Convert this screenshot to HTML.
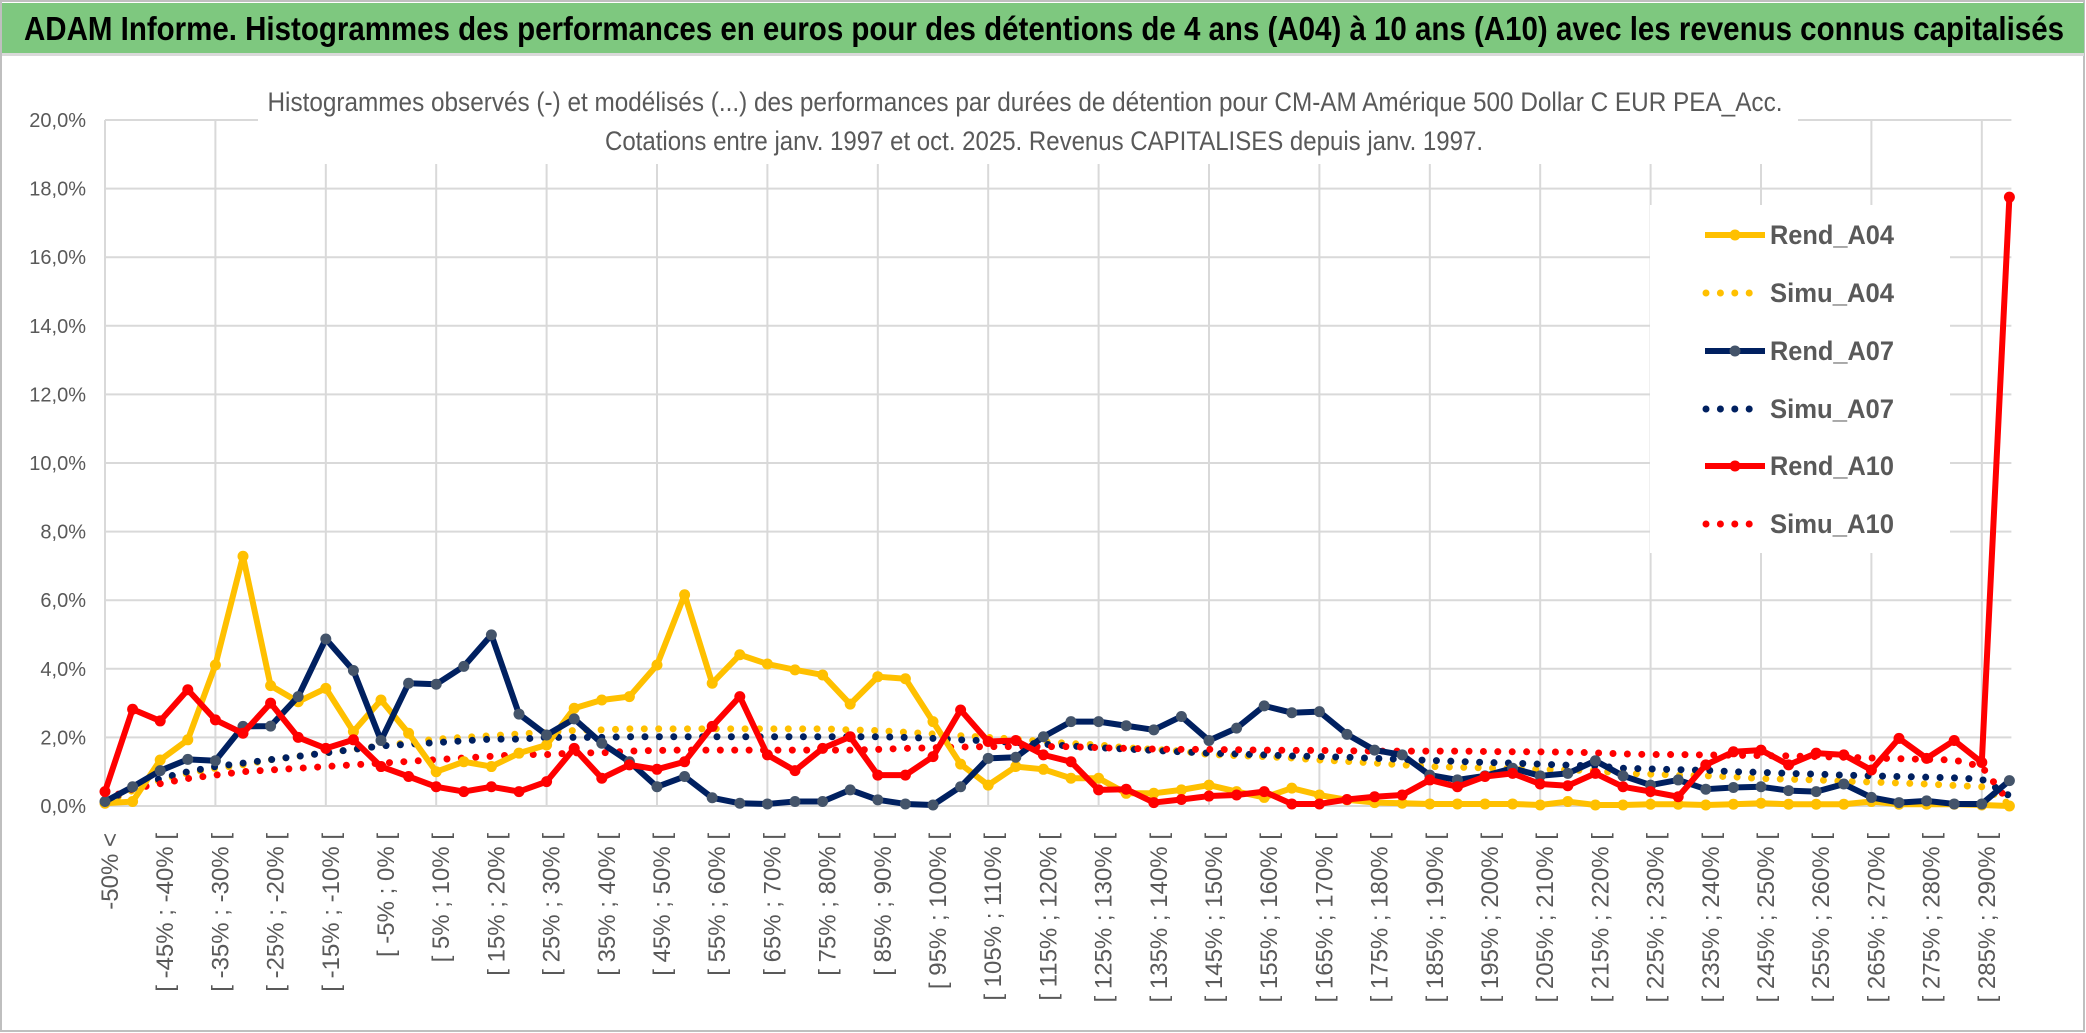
<!DOCTYPE html>
<html><head><meta charset="utf-8"><style>
html,body{margin:0;padding:0;background:#fff;}
svg{display:block;}
text{font-family:"Liberation Sans",sans-serif;}
</style></head><body>
<svg id="chart" width="2086" height="1033" xmlns="http://www.w3.org/2000/svg">
<rect x="0" y="0" width="2086" height="1033" fill="#fff"/>
<rect x="1" y="1" width="2083" height="1030" fill="none" stroke="#bfbfbf" stroke-width="2"/>
<rect x="2" y="3" width="2082" height="50" fill="#7ec87f"/>
<rect x="2" y="53" width="2082" height="3" fill="#d9d9d9"/>
<text x="24" y="40" font-size="33" font-weight="bold" fill="#000" textLength="2040" lengthAdjust="spacingAndGlyphs">ADAM Informe. Histogrammes des performances en euros pour des détentions de 4 ans (A04) à 10 ans (A10) avec les revenus connus capitalisés</text>
<g id="grid"></g>
<g id="yaxis"></g>
<g id="xaxis"></g>
<rect x="258" y="82" width="1540" height="82" fill="#fff"/>
<text x="1025" y="111" font-size="27" fill="#595959" text-anchor="middle" textLength="1515" lengthAdjust="spacingAndGlyphs">Histogrammes observés (-) et modélisés (...) des performances par durées de détention pour CM-AM Amérique 500 Dollar C EUR PEA_Acc.</text>
<text x="1044" y="150" font-size="27" fill="#595959" text-anchor="middle" textLength="878" lengthAdjust="spacingAndGlyphs">Cotations entre janv. 1997 et oct. 2025. Revenus CAPITALISES depuis janv. 1997.</text>
<g id="series"></g>
<g id="legend"></g>
</svg>
<script>
const categories = [];
categories.push("-50% <");
for (let k = 1; k < 70; k++) { const a = (k - 11) * 5; categories.push("[ " + a + "% ; " + (a + 5) + "% ["); }
const yTicks = [0,2,4,6,8,10,12,14,16,18,20];
const yTickLabels = ["0,0%","2,0%","4,0%","6,0%","8,0%","10,0%","12,0%","14,0%","16,0%","18,0%","20,0%"];
const rendA04 = [.08,.13,1.34,1.93,4.11,7.28,3.51,3.04,3.43,2.17,3.09,2.12,1.0,1.29,1.15,1.54,1.78,2.85,3.09,
3.19,4.11,6.16,3.58,4.41,4.14,3.97,3.82,2.97,3.77,3.71,2.46,1.22,.61,1.15,1.07,.81,.81,
.37,.37,.47,.61,.42,.25,.52,.32,.18,.1,.08,.06,.06,.06,.06,.03,.13,.03,
.03,.05,.05,.03,.05,.08,.05,.05,.05,.13,.05,.05,.05,.03,0];
const simuA04 = [.1,.45,.75,.95,1.1,1.2,1.35,1.45,1.55,1.65,1.75,1.85,1.95,2.0,2.05,2.1,2.15,2.2,2.22,
2.25,2.25,2.25,2.25,2.25,2.25,2.25,2.25,2.22,2.2,2.15,2.1,2.05,2.0,1.95,1.88,1.82,1.78,
1.7,1.65,1.6,1.5,1.47,1.44,1.4,1.34,1.3,1.25,1.2,1.15,1.13,1.11,1.09,1.07,1.05,1.03,
.95,.93,.9,.88,.85,.8,.78,.76,.72,.7,.67,.64,.6,.56,.05];
const rendA07 = [.13,.56,1.03,1.36,1.32,2.32,2.33,3.19,4.87,3.95,1.91,3.58,3.55,4.07,4.99,2.68,2.07,2.54,1.83,
1.29,.56,.86,.24,.08,.06,.13,.13,.47,.18,.06,.03,.56,1.39,1.42,2.02,2.46,2.46,
2.34,2.22,2.61,1.91,2.27,2.92,2.72,2.75,2.09,1.63,1.49,.9,.76,.88,1.1,.88,.95,1.32,
.88,.61,.76,.49,.54,.56,.45,.42,.64,.25,.1,.15,.06,.06,.74];
const simuA07 = [.15,.5,.8,1.0,1.15,1.25,1.35,1.45,1.55,1.65,1.75,1.8,1.85,1.9,1.95,1.95,2.0,2.0,2.0,
2.02,2.02,2.02,2.02,2.02,2.02,2.02,2.02,2.02,2.02,2.0,1.97,1.93,1.9,1.85,1.8,1.75,1.7,
1.66,1.62,1.58,1.54,1.52,1.49,1.46,1.44,1.42,1.39,1.36,1.33,1.3,1.27,1.25,1.22,1.19,1.17,
1.1,1.08,1.06,1.04,1.0,.98,.95,.93,.9,.88,.86,.84,.82,.78,.3];
const rendA10 = [.42,2.82,2.48,3.39,2.51,2.12,3.0,2.0,1.68,1.93,1.15,.86,.56,.42,.56,.42,.71,1.68,.81,
1.2,1.07,1.29,2.32,3.19,1.49,1.03,1.68,2.02,.9,.9,1.44,2.8,1.88,1.91,1.49,1.29,.47,
.49,.1,.19,.29,.32,.42,.06,.06,.19,.27,.32,.76,.56,.86,.95,.64,.59,.95,
.56,.42,.27,1.2,1.58,1.63,1.2,1.54,1.49,1.05,1.97,1.39,1.91,1.27,17.75];
const simuA10 = [.2,.5,.65,.8,.9,1.0,1.05,1.1,1.15,1.2,1.25,1.3,1.35,1.4,1.45,1.5,1.5,1.55,1.55,
1.6,1.62,1.63,1.63,1.63,1.63,1.63,1.63,1.63,1.65,1.68,1.7,1.72,1.73,1.73,1.73,1.73,1.7,
1.68,1.66,1.65,1.65,1.64,1.63,1.62,1.62,1.61,1.6,1.6,1.6,1.6,1.59,1.58,1.58,1.57,1.55,
1.52,1.5,1.5,1.49,1.48,1.47,1.46,1.44,1.42,1.4,1.38,1.36,1.34,1.15,0.1];
const seriesNames = ["Rend_A04","Simu_A04","Rend_A07","Simu_A07","Rend_A10","Simu_A10"];

const NS = "http://www.w3.org/2000/svg";
const X0 = 105, STEP = 27.6, Y0 = 806, YPX = 34.3;
function xs(i){ return X0 + i * STEP; }
function ys(v){ return Y0 - v * YPX; }
function mk(tag, attrs, parent){ const e = document.createElementNS(NS, tag); for (const k in attrs) e.setAttribute(k, attrs[k]); parent.appendChild(e); return e; }

const grid = document.getElementById("grid");
const xEnd = xs(categories.length - 1) + 2;
yTicks.forEach((t, k) => {
  const l = mk("line", {x1: X0, x2: xEnd, y1: ys(t), y2: ys(t), stroke: "#d9d9d9", "stroke-width": 2}, grid);
  
  
  const tx = mk("text", {x: 86, y: ys(t) + 7, "font-size": 20, fill: "#595959", "text-anchor": "end"}, document.getElementById("yaxis"));
  tx.textContent = yTickLabels[k];
  
  
});
for (let i = 0; i < categories.length; i += 4) {
  const l = mk("line", {x1: xs(i), x2: xs(i), y1: ys(20), y2: Y0, stroke: "#d9d9d9", "stroke-width": 2}, grid);
  
  
}
const xaxis = document.getElementById("xaxis");
categories.forEach((c, i) => {
  if (i % 2 === 1) return;
  const x = xs(i) + 13;
  const t = mk("text", {x: x, y: 833, "font-size": 24, fill: "#595959", "text-anchor": "end", transform: "rotate(-90 " + x + " 833)"}, xaxis);
  t.textContent = c;
  
  
});

const seriesG = document.getElementById("series");
function drawSim(vals, color, name){
  const pts = vals.map((v, i) => xs(i) + "," + ys(v)).join(" ");
  const p = mk("polyline", {points: pts, fill: "none", stroke: color, "stroke-width": 7, "stroke-linecap": "round", "stroke-dasharray": "0 14.4"}, seriesG);
  
  
}
function drawRend(vals, color, mcolor, name){
  const pts = vals.map((v, i) => xs(i) + "," + ys(v)).join(" ");
  const p = mk("polyline", {points: pts, fill: "none", stroke: color, "stroke-width": 6, "stroke-linejoin": "round"}, seriesG);
  
  
  vals.forEach((v, i) => {
    const c = mk("circle", {cx: xs(i), cy: ys(v), r: 5.5, fill: mcolor}, seriesG);
    
    
  });
}
drawSim(simuA04, "#ffc000", "simu-a04-line");
drawSim(simuA07, "#002060", "simu-a07-line");
drawSim(simuA10, "#ff0000", "simu-a10-line");
drawRend(rendA04, "#ffc000", "#ffc000", "rend-a04-line");
drawRend(rendA07, "#002060", "#44546a", "rend-a07-line");
drawRend(rendA10, "#ff0000", "#ff0000", "rend-a10-line");

const legend = document.getElementById("legend");
const lb = mk("rect", {x: 1650, y: 205, width: 300, height: 348, fill: "#fff"}, legend);


const legColors = ["#ffc000","#ffc000","#002060","#002060","#ff0000","#ff0000"];
const legMarker = ["#ffc000",null,"#44546a",null,"#ff0000",null];
const legY = [235,293,351,409,466,524];
seriesNames.forEach((n, k) => {
  const y = legY[k];
  const g = mk("g", {}, legend);
  
  
  if (legMarker[k]) {
    mk("line", {x1: 1705, x2: 1765, y1: y, y2: y, stroke: legColors[k], "stroke-width": 6}, g);
    mk("circle", {cx: 1735, cy: y, r: 5.5, fill: legMarker[k]}, g);
  } else {
    mk("line", {x1: 1706, x2: 1762, y1: y, y2: y, stroke: legColors[k], "stroke-width": 7, "stroke-linecap": "round", "stroke-dasharray": "0 14.4"}, g);
  }
  const t = mk("text", {x: 1770, y: y + 9, "font-size": 27, "font-weight": "bold", fill: "#595959", textLength: 124, lengthAdjust: "spacingAndGlyphs"}, g);
  t.textContent = n;
});
</script>
</body></html>
